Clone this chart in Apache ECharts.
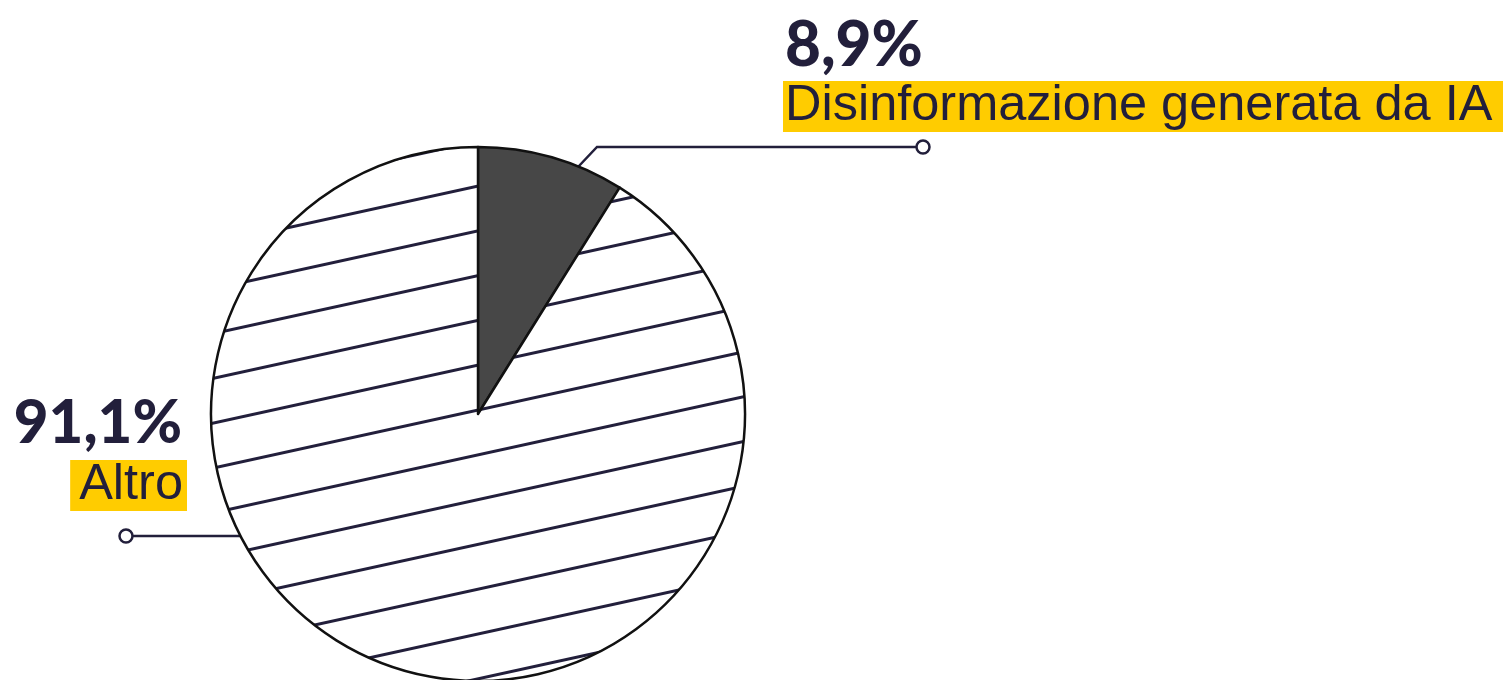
<!DOCTYPE html>
<html>
<head>
<meta charset="utf-8">
<title>Disinformazione generata da IA</title>
<script src="https://cdn.jsdelivr.net/npm/echarts@6/dist/echarts.min.js"></script>
<style>
  html, body { margin: 0; padding: 0; background: #fff; }
  #chart { width: 1503px; height: 680px; }
</style>
</head>
<body>
<div id="chart"></div>
<script>
// data
const categories = ['Disinformazione generata da IA', 'Altro'];
const shares = [8.9, 91.1];
const sliceColors = ['#474747', 'hatch'];

const ink = '#221f3b';
const W = 1503, H = 680;
const heavy = "Lato, sans-serif";

// diagonal hatch used as fill for the "Altro" slice
function makeHatch() {
  const c = document.createElement('canvas');
  c.width = W; c.height = H;
  const ctx = c.getContext('2d');
  ctx.fillStyle = '#fff';
  ctx.fillRect(0, 0, W, H);
  ctx.strokeStyle = ink;
  ctx.lineWidth = 3;
  const slope = 0.219, gap = 44.8, y0 = 290.7;
  for (let k = -20; k < 30; k++) {
    const y = y0 + k * gap;
    ctx.beginPath();
    ctx.moveTo(0, y);
    ctx.lineTo(W, y - slope * W);
    ctx.stroke();
  }
  return c;
}
const hatch = { image: makeHatch(), repeat: 'no-repeat' };

const fmtPct = v => v.toFixed(1).replace('.', ',') + '%';

const chart = echarts.init(document.getElementById('chart'));
chart.setOption({
  animation: false,
  series: [{
    type: 'pie',
    silent: true,
    center: [478, 414],
    radius: 267,
    startAngle: 90,
    clockwise: true,
    avoidLabelOverlap: false,
    itemStyle: { borderColor: '#111', borderWidth: 2.5 },
    data: categories.map((name, i) => ({
      name: name,
      value: shares[i],
      itemStyle: { color: sliceColors[i] === 'hatch' ? hatch : sliceColors[i] }
    })),
    label: {
      show: true,
      formatter: p => '{p' + p.dataIndex + '|' + fmtPct(p.value) + '}\n{n' + p.dataIndex + '|' + p.name + '}',
      rich: {
        p0: { fontFamily: heavy, fontWeight: 900, fontSize: 62, color: ink, lineHeight: 78, padding: [0, 0, 0, 2] },
        n0: { fontFamily: 'Liberation Sans', fontSize: 50.5, color: ink, lineHeight: 43,
              backgroundColor: '#ffcc00', padding: [0, 30, 0, 2] },
        p1: { fontFamily: heavy, fontWeight: 900, fontSize: 60, color: ink, lineHeight: 71, padding: [0, 5, 0, 0] },
        n1: { fontFamily: 'Liberation Sans', fontSize: 50.5, color: ink, lineHeight: 53,
              backgroundColor: '#ffcc00', padding: [0, 4, 0, 9] }
      }
    },
    labelLine: { show: true, smooth: false, lineStyle: { color: ink, width: 2.5 } },
    labelLayout: function (params) {
      if (params.dataIndex === 0) {
        return { x: 783, y: 7, align: 'left', verticalAlign: 'top',
                 labelLinePoints: [[578, 167], [597, 147], [916, 147]] };
      }
      return { x: 187, y: 388, align: 'right', verticalAlign: 'top',
               labelLinePoints: [[242, 536], [133, 536]] };
    }
  }],
  graphic: [
    { type: 'circle', z: 100, shape: { cx: 923, cy: 147, r: 6.5 },
      style: { fill: '#fff', stroke: ink, lineWidth: 2.5 } },
    { type: 'circle', z: 100, shape: { cx: 126, cy: 536, r: 6.5 },
      style: { fill: '#fff', stroke: ink, lineWidth: 2.5 } }
  ]
});
</script>
</body>
</html>
